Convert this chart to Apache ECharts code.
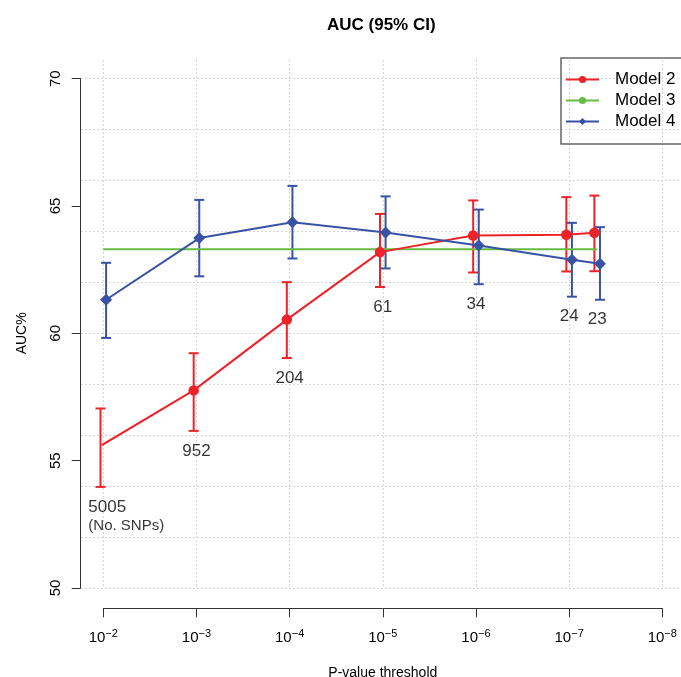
<!DOCTYPE html>
<html>
<head>
<meta charset="utf-8">
<script src="https://cdn.jsdelivr.net/npm/echarts@6/dist/echarts.min.js"></script>
<style>
  html, body { margin: 0; padding: 0; background: #fff; }
  #main { width: 681px; height: 677px; }
</style>
</head>
<body>
<div id="main"></div>
<script>
// x is -log10(P-value threshold); last one is 5e-8
var thresholds = [2, 3, 4, 5, 6, 7, 7.301];
var tickExponents = ['\u22122', '\u22123', '\u22124', '\u22125', '\u22126', '\u22127', '\u22128'];
var snpCounts = ['5005', '952', '204', '61', '34', '24', '23'];

var model2Auc = [55.58, 57.76, 60.54, 63.19, 63.84, 63.87, 63.95];
var model2Low = [53.97, 56.17, 59.03, 61.82, 62.39, 62.43, 62.44];
var model2High = [57.05, 59.22, 62.01, 64.69, 65.22, 65.35, 65.41];

var model3Auc = 63.3;

var model4Auc = [61.32, 63.74, 64.36, 63.96, 63.45, 62.89, 62.73];
var model4Low = [59.82, 62.24, 62.94, 62.55, 61.93, 61.44, 61.32];
var model4High = [62.77, 65.24, 65.79, 65.38, 64.86, 64.34, 64.17];

var RED = '#ee2229', GREEN = '#66bb44', BLUE = '#3953a4';
var FONT = '"Liberation Sans", Arial, sans-serif';
var dodge = 0.03;

var chart = echarts.init(document.getElementById('main'));

function errorBars(color, lows, highs, shift) {
    return {
        type: 'custom',
        silent: true,
        data: thresholds.map(function (t, i) { return [t + shift, lows[i], highs[i]]; }),
        encode: { x: 0, y: [1, 2] },
        renderItem: function (params, api) {
            var lo = api.coord([api.value(0), api.value(1)]);
            var hi = api.coord([api.value(0), api.value(2)]);
            var w = 5;
            var st = { stroke: color, lineWidth: 2 };
            return {
                type: 'group',
                children: [
                    { type: 'line', shape: { x1: lo[0], y1: lo[1], x2: hi[0], y2: hi[1] }, style: st },
                    { type: 'line', shape: { x1: lo[0] - w, y1: lo[1], x2: lo[0] + w, y2: lo[1] }, style: st },
                    { type: 'line', shape: { x1: hi[0] - w, y1: hi[1], x2: hi[0] + w, y2: hi[1] }, style: st }
                ]
            };
        }
    };
}

var gridLine = { show: true, lineStyle: { color: '#d6d6d6', width: 1, type: [2, 2] } };

var option = {
    animation: false,
    backgroundColor: '#fff',
    textStyle: { fontFamily: FONT },
    title: {
        text: 'AUC (95% CI)',
        left: 322, top: 12,
        textStyle: { fontSize: 17, fontWeight: 'bold', color: '#000', fontFamily: FONT }
    },
    legend: {
        orient: 'vertical',
        left: 561, top: 58,
        data: ['Model 2', 'Model 3', 'Model 4'],
        itemWidth: 33, itemHeight: 9, itemGap: 0,
        padding: [11, 16, 12, 4],
        borderColor: '#666', borderWidth: 1.5, borderRadius: 0,
        selectedMode: false,
        textStyle: { fontSize: 17, color: '#000', lineHeight: 21, padding: [0, 0, 0, 11], fontFamily: FONT }
    },
    grid: [
        { left: 103.3, right: 18.7, top: 78.7, bottom: 89, outerBoundsMode: 'none' },
        { left: 81, width: 620, top: 78.7, bottom: 89, outerBoundsMode: 'none' },
        { left: 103.3, right: 18.7, top: 60, bottom: 89, outerBoundsMode: 'none' }
    ],
    xAxis: [
        {
            gridIndex: 0, type: 'value', min: 2, max: 8, interval: 1,
            position: 'bottom', offset: 20.3,
            axisLine: { show: true, onZero: false, lineStyle: { color: '#333', width: 1 } },
            axisTick: { show: true, length: 9, lineStyle: { color: '#333' } },
            splitLine: { show: false },
            axisLabel: {
                margin: 20, color: '#000',
                formatter: function (v) {
                    return '{b|10}{s|' + tickExponents[Math.round(v) - 2] + '}';
                },
                rich: {
                    b: { fontSize: 15, fontFamily: FONT, color: '#000' },
                    s: { fontSize: 11, fontFamily: FONT, color: '#000', padding: [0, 0, 9, 0] }
                }
            },
            name: 'P-value threshold', nameLocation: 'middle', nameGap: 58,
            nameTextStyle: { fontSize: 14, color: '#000', fontFamily: FONT }
        },
        { gridIndex: 1, type: 'value', min: 0, max: 1, show: false },
        {
            gridIndex: 2, type: 'value', min: 2, max: 8, interval: 1,
            axisLine: { show: false }, axisTick: { show: false }, axisLabel: { show: false },
            splitLine: gridLine
        }
    ],
    yAxis: [
        {
            gridIndex: 0, type: 'value', min: 50, max: 70, interval: 5,
            position: 'left', offset: 22.6,
            axisLine: { show: true, lineStyle: { color: '#333', width: 1 } },
            axisTick: { show: true, length: 9, lineStyle: { color: '#333' } },
            splitLine: { show: false },
            axisLabel: { rotate: 90, margin: 17, fontSize: 15, color: '#000', fontFamily: FONT },
            name: 'AUC%', nameLocation: 'middle', nameGap: 52,
            nameTextStyle: { fontSize: 14, color: '#000', fontFamily: FONT }
        },
        {
            gridIndex: 1, type: 'value', min: 50, max: 70, interval: 2,
            axisLine: { show: false }, axisTick: { show: false }, axisLabel: { show: false },
            splitLine: gridLine
        },
        { gridIndex: 2, type: 'value', min: 0, max: 1, show: false }
    ],
    series: [
        {
            name: 'Model 3', type: 'line', symbol: 'none', silent: true,
            data: [[thresholds[0], model3Auc], [thresholds[thresholds.length - 1], model3Auc]],
            lineStyle: { color: GREEN, width: 2 }, itemStyle: { color: GREEN }
        },
        errorBars(RED, model2Low, model2High, -dodge),
        {
            name: 'Model 2', type: 'line', symbol: 'circle', symbolSize: 10.5, silent: true,
            data: thresholds.map(function (t, i) { return [t - dodge, model2Auc[i]]; }),
            lineStyle: { color: RED, width: 2 }, itemStyle: { color: RED }
        },
        errorBars(BLUE, model4Low, model4High, dodge),
        {
            name: 'Model 4', type: 'line', symbol: 'diamond', symbolSize: 12, silent: true,
            data: thresholds.map(function (t, i) { return [t + dodge, model4Auc[i]]; }),
            lineStyle: { color: BLUE, width: 2 }, itemStyle: { color: BLUE }
        },
        {
            type: 'scatter', symbolSize: 0, silent: true,
            data: thresholds.map(function (t, i) {
                var item = { value: [t, Math.min(model2Low[i], model4Low[i])] };
                if (i === 0) {
                    item.label = {
                        align: 'left', offset: [-15, 0],
                        formatter: snpCounts[0] + '\n{n|(No. SNPs)}'
                    };
                }
                return item;
            }),
            label: {
                show: true, position: 'bottom', distance: 10,
                fontSize: 17, lineHeight: 20, color: '#000', fontFamily: FONT,
                formatter: function (p) { return snpCounts[p.dataIndex]; },
                rich: { n: { fontSize: 15, lineHeight: 17, color: '#000', fontFamily: FONT } }
            }
        }
    ]
};

chart.setOption(option);
</script>
</body>
</html>
